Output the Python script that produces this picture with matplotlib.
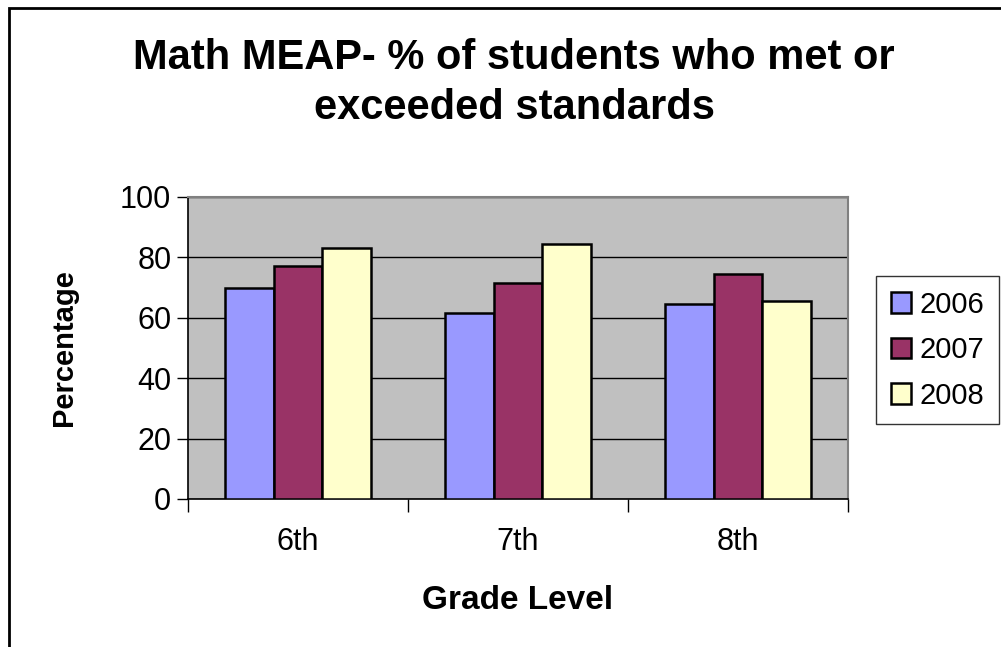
import numpy as np
import matplotlib.pyplot as plt
from matplotlib.patches import Rectangle

# Math MEAP dati
grades = ['6th', '7th', '8th']
years = ['2006', '2007', '2008']
v2006 = [70, 61.5, 64.5]
v2007 = [77, 71.5, 74.5]
v2008 = [83, 84.5, 65.5]
colors = ['#9999FF', '#993366', '#FFFFCC']

plt.rcParams['font.family'] = ['Liberation Sans', 'DejaVu Sans']

fig = plt.figure(figsize=(10.01, 6.47), dpi=100)
ax = fig.add_axes([188/1001, 1-499/647, 660/1001, 302/647])

x = np.arange(len(grades))
w = 0.222
for i, (vals, c, lab) in enumerate(zip([v2006, v2007, v2008], colors, years)):
    ax.bar(x + (i-1)*w, vals, w, color=c, edgecolor='black', linewidth=1.8,
           label=lab, zorder=3)

ax.set_facecolor('#C0C0C0')
ax.set_xlim(-0.5, 2.5)
ax.set_ylim(0, 100)
ax.set_yticks([0, 20, 40, 60, 80, 100])
ax.yaxis.grid(True, color='black', linewidth=1)
ax.set_axisbelow(True)

ax.set_xticks(x)
ax.set_xticklabels(grades)
ax.set_xticks([-0.5, 0.5, 1.5, 2.5], minor=True)
ax.tick_params(axis='x', which='major', length=0, pad=20, labelsize=22)
ax.tick_params(axis='x', which='minor', length=9, width=1, direction='out')
ax.tick_params(axis='y', length=8, width=1, direction='out', labelsize=22, pad=4)

for s in ['top', 'right']:
    ax.spines[s].set_color('#808080')
    ax.spines[s].set_linewidth(1.5)
for s in ['left', 'bottom']:
    ax.spines[s].set_color('black')
    ax.spines[s].set_linewidth(1.2)

ax.set_xlabel('Grade Level', fontsize=24, fontweight='bold', labelpad=20)
ax.set_ylabel('Percentage', fontsize=21, fontweight='bold', labelpad=30)

fig.text(514/1001, 1-83/647, 'Math MEAP- % of students who met or\nexceeded standards',
         ha='center', va='center', fontsize=30, fontweight='bold', linespacing=1.3)

leg = fig.legend(loc='upper left', bbox_to_anchor=(876/1001, 1-276/647),
                 fontsize=21, frameon=True, fancybox=False, handlelength=0.7,
                 handleheight=0.7, handletextpad=0.3, labelspacing=0.6,
                 borderpad=0.5, borderaxespad=0)
leg.get_frame().set_edgecolor('black')
leg.get_frame().set_linewidth(1)

# bordo esterno
fig.patches.append(Rectangle((9/1001, -0.1), 1.2, 1-8/647+0.1, transform=fig.transFigure,
                             fill=False, edgecolor='black', linewidth=2))

fig.savefig('out.png', dpi=100)
